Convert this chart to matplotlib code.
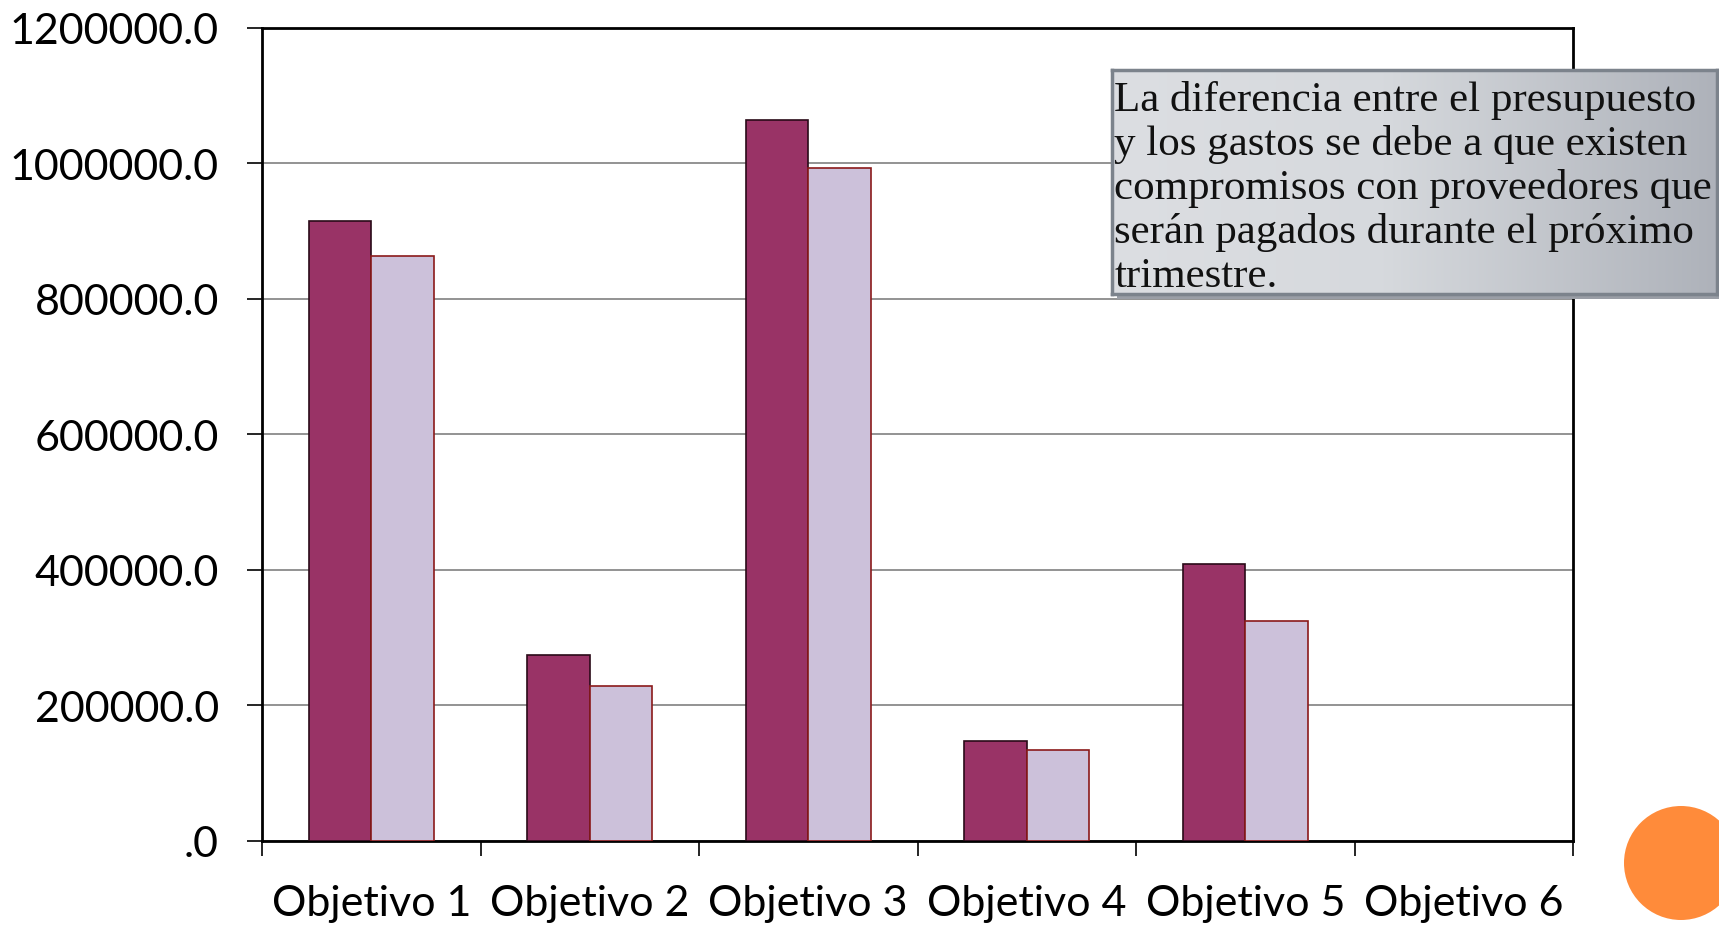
import numpy as np
import matplotlib
matplotlib.use("Agg")
import matplotlib.pyplot as plt
from matplotlib.patches import Rectangle, Ellipse

# data
categories = ['Objetivo 1', 'Objetivo 2', 'Objetivo 3', 'Objetivo 4', 'Objetivo 5', 'Objetivo 6']
presupuesto = [915000, 275000, 1064000, 147000, 409000, 0]
gastos = [863000, 228000, 993000, 134000, 325000, 0]
yticks = [0, 200000, 400000, 600000, 800000, 1000000, 1200000]
ytick_labels = ['.0', '200000.0', '400000.0', '600000.0', '800000.0', '1000000.0', '1200000.0']
note = ("La diferencia entre el presupuesto\n"
        "y los gastos se debe a que existen\n"
        "compromisos con proveedores que\n"
        "serán pagados durante el próximo\n"
        "trimestre.")

colorDark = '#993366'
colorLight = '#CCC1DA'

W, H = 1719, 928
fig = plt.figure(figsize=(W / 100, H / 100), dpi=100)
ax = fig.add_axes([262 / W, 1 - 842 / H, (1573 - 262) / W, (842 - 28.5) / H])

index = np.arange(len(categories))
width = 0.286

# no outline on empty bars (Objetivo 6)
lwDark = [1.2 if v else 0 for v in presupuesto]
lwLight = [1.2 if v else 0 for v in gastos]
ax.bar(index - width / 2, presupuesto, width=width, color=colorDark, edgecolor='#2a0a18', linewidth=lwDark, zorder=3)
ax.bar(index + width / 2, gastos, width=width, color=colorLight, edgecolor='#8b1a1a', linewidth=lwLight, zorder=3)

ax.set_xlim(-0.5, len(categories) - 0.5)
ax.set_ylim(0, 1200000)

ax.set_yticks(yticks)
ax.set_yticklabels(ytick_labels, fontsize=31, family='Lato')
ax.yaxis.grid(True, color='#808080', linewidth=1.2, zorder=0)

# ticks at category boundaries, labels at centers
ax.set_xticks(np.arange(len(categories) + 1) - 0.5)
ax.set_xticklabels([])
ax.set_xticks(index, minor=True)
ax.set_xticklabels(categories, minor=True, fontsize=31, family='Lato')
ax.tick_params(axis='x', which='major', length=11, width=1.2, direction='out')
ax.tick_params(axis='x', which='minor', length=0, pad=31)
ax.tick_params(axis='y', length=11, width=1.2, pad=20)

for s in ax.spines.values():
    s.set_color('black')
    s.set_linewidth(2)

# note box with gradient and shadow
bx0, bx1, by0, by1 = 1112, 1717, 71, 295
fig.patches.append(Rectangle(((bx0 + 5) / W, 1 - (by1 + 5) / H), (bx1 - bx0) / W, (by1 - by0) / H,
                             transform=fig.transFigure, facecolor='#9a9ea6', edgecolor='none', zorder=4))
bax = fig.add_axes([bx0 / W, 1 - by1 / H, (bx1 - bx0) / W, (by1 - by0) / H], zorder=5)
grad = np.linspace(0, 1, 256)
cmap = matplotlib.colors.LinearSegmentedColormap.from_list(
    'g', [(0, '#dcdee2'), (0.45, '#d6d9dd'), (1, '#aeb2ba')])
bax.imshow(grad[np.newaxis, :], aspect='auto', cmap=cmap, extent=[0, 1, 0, 1])
bax.set_xticks([])
bax.set_yticks([])
for s in bax.spines.values():
    s.set_color('#7c838c')
    s.set_linewidth(2.5)
bax.text(0.004, 0.475, note, transform=bax.transAxes, ha='left', va='center',
         fontsize=31, family='Liberation Serif', linespacing=1.17, color='#111111')

# orange circle
fig.patches.append(Ellipse((1681 / W, 1 - 864 / H), 114 / W, 114 / H, transform=fig.transFigure,
                           facecolor='#ff8b3a', edgecolor='none', zorder=6))

fig.savefig('out.png', dpi=100)
